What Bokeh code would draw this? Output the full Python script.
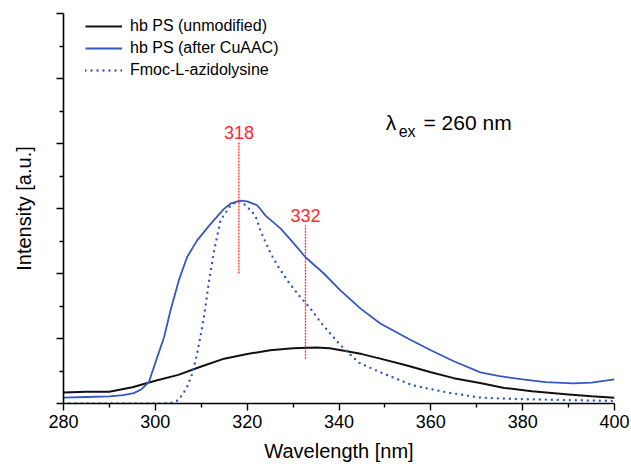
from bokeh.plotting import figure
from bokeh.models import (FixedTicker, Range1d, Legend, LegendItem, Label,
                          CustomJSTickFormatter, ColumnDataSource)
from bokeh.core.properties import value
from bokeh.embed import file_html
from bokeh.resources import INLINE

FONT = "Liberation Sans"

# ---- data ----
wl_unmod = [280, 285, 290, 295, 300, 305, 310, 315, 320, 325, 330, 335, 338,
            342, 345, 349, 355, 360, 365, 371, 376, 382, 390, 395, 400]
int_unmod = [0.17, 0.18, 0.18, 0.25, 0.35, 0.44, 0.57, 0.69, 0.76, 0.82, 0.85,
             0.86, 0.85, 0.80, 0.76, 0.69, 0.58, 0.48, 0.39, 0.31, 0.24, 0.19,
             0.14, 0.11, 0.09]

wl_cuaac = [280, 285, 290, 293, 295.3, 297, 298.6, 300.4, 301.9, 303.3, 305.1,
            306.9, 309.1, 312, 314.9, 316.5, 318.5, 320, 322.2, 324, 327.3,
            330.2, 332.7, 336.7, 340.3, 344.7, 349, 355, 360, 365, 370.8, 375,
            380, 385, 391, 395, 400]
int_cuaac = [0.09, 0.10, 0.11, 0.13, 0.16, 0.22, 0.33, 0.71, 1.02, 1.43, 1.89,
             2.25, 2.51, 2.76, 2.99, 3.08, 3.12, 3.11, 3.05, 2.89, 2.69, 2.46,
             2.25, 2.00, 1.74, 1.46, 1.23, 1.00, 0.82, 0.65, 0.48, 0.42, 0.37,
             0.33, 0.31, 0.32, 0.37]

wl_fmoc = [280, 300, 303.5, 305, 306.2, 306.9, 308, 309.1, 310.6, 311.7, 312.8,
           314.2, 316.4, 318.2, 319.7, 321.8, 323, 325.1, 326.9, 329, 331.3,
           333.8, 336, 340, 344.3, 349, 356, 363.6, 370.8, 378, 385, 392, 400]
int_fmoc = [0.0, 0.0, 0.01, 0.05, 0.17, 0.25, 0.45, 0.76, 1.33, 1.89, 2.35,
            2.82, 3.05, 3.12, 3.05, 2.89, 2.64, 2.31, 2.09, 1.87, 1.66, 1.46,
            1.25, 0.92, 0.63, 0.48, 0.28, 0.17, 0.09, 0.07, 0.06, 0.05, 0.04]

peak_x = [318.2, 332.7]
peak_top = [4.02, 2.74]
peak_bottom = [2.0, 0.69]
peak_labels = ["318", "332"]

x_major = [280, 300, 320, 340, 360, 380, 400]
x_minor = [290, 310, 330, 350, 370, 390]
y_major = [0, 1, 2, 3, 4, 5, 6]
y_minor = [0.5, 1.5, 2.5, 3.5, 4.5, 5.5]

BLACK = "#111111"
BLUE = "#3558be"
RED = "#ff2a2a"

p = figure(width=631, height=464, output_backend="svg", toolbar_location=None,
           x_range=Range1d(280, 400), y_range=Range1d(0, 6),
           min_border_left=63, min_border_right=17, min_border_top=13,
           min_border_bottom=61)
p.outline_line_color = None
p.grid.visible = False
p.background_fill_color = "white"
p.border_fill_color = "white"

# axes
p.xaxis.ticker = FixedTicker(ticks=x_major, minor_ticks=x_minor)
p.yaxis.ticker = FixedTicker(ticks=y_major, minor_ticks=y_minor)
p.yaxis.formatter = CustomJSTickFormatter(code="return ''")
for ax in (p.xaxis, p.yaxis):
    ax.axis_line_width = 1.6
    ax.axis_line_color = "black"
    ax.major_tick_line_width = 1.4
    ax.minor_tick_line_width = 1.4
    ax.major_tick_line_color = "black"
    ax.minor_tick_line_color = "black"
    ax.major_tick_in = 0
    ax.minor_tick_in = 0
    ax.axis_label_text_font = FONT
    ax.axis_label_text_font_style = "normal"
    ax.axis_label_text_font_size = "20px"
    ax.axis_label_text_color = "black"
    ax.major_label_text_font = FONT
    ax.major_label_text_color = "black"
p.xaxis.major_tick_out = 7
p.xaxis.minor_tick_out = 4
p.yaxis.major_tick_out = 7
p.yaxis.minor_tick_out = 4
p.xaxis.major_label_text_font_size = "18px"
p.xaxis.major_label_standoff = 4
p.xaxis.axis_label = "Wavelength [nm]"
p.xaxis.axis_label_standoff = 9
p.yaxis.axis_label = "Intensity [a.u.]"
p.yaxis.axis_label_standoff = 22

# curves
r_unmod = p.line(wl_unmod, int_unmod, line_color=BLACK, line_width=2)
r_cuaac = p.line(wl_cuaac, int_cuaac, line_color=BLUE, line_width=1.8)
r_fmoc = p.line(wl_fmoc, int_fmoc, line_color=BLUE, line_width=2.4,
                line_dash="0 6", line_cap="round")

# peak markers
src = ColumnDataSource(dict(x=peak_x, top=peak_top, bottom=peak_bottom,
                            label=peak_labels))
p.segment(x0="x", y0="bottom", x1="x", y1="top", source=src,
          line_color=RED, line_width=1.3, line_dash="2 1")
p.text(x="x", y="top", text="label", source=src, text_color=RED,
       text_font=value(FONT), text_font_size="18px", text_align="center",
       text_baseline="alphabetic", y_offset=-10)

# excitation annotation
p.add_layout(Label(x=350.2, y=4.32, text="λ", text_font=FONT,
                   text_font_size="21px", text_color="black",
                   text_baseline="alphabetic"))
p.add_layout(Label(x=353.0, y=4.18, text="ex", text_font=FONT,
                   text_font_size="16px", text_color="black",
                   text_baseline="alphabetic"))
p.add_layout(Label(x=358.4, y=4.32, text="= 260 nm", text_font=FONT,
                   text_font_size="21px", text_color="black",
                   text_baseline="alphabetic"))

legend = Legend(items=[
    LegendItem(label="hb PS (unmodified)", renderers=[r_unmod]),
    LegendItem(label="hb PS (after CuAAC)", renderers=[r_cuaac]),
    LegendItem(label="Fmoc-L-azidolysine", renderers=[r_fmoc]),
], location=(22, 324), border_line_color=None, background_fill_alpha=0,
    padding=0, margin=0, spacing=4, glyph_width=37, glyph_height=16,
    label_height=16, label_standoff=8, label_text_font=FONT,
    label_text_font_size="16px", label_text_color="black")
p.add_layout(legend)

open("out.html", "w").write(file_html(p, INLINE))
